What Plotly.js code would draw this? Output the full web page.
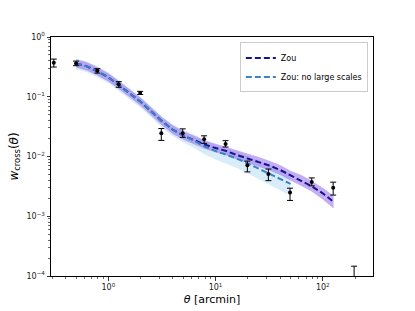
<!DOCTYPE html>
<html>
<head>
<meta charset="utf-8">
<script src="https://cdn.plot.ly/plotly-3.0.1.min.js"></script>
<style>html,body{margin:0;padding:0;background:#fff;}#chart{width:415px;height:311px;}</style>
</head>
<body>
<div id="chart"></div>
<script>
// Measurements
const thetaObs = [0.31, 0.5, 0.79, 1.25, 1.98, 3.12, 4.94, 7.82, 12.4, 19.8, 31.1, 49.5, 78.9, 125, 196];
const wObs     = [0.372, 0.361, 0.273, 0.162, 0.116, 0.0244, 0.0246, 0.0194, 0.0162, 0.00714, 0.0051, 0.00249, 0.00376, 0.00299, 5e-5];
const wObsHi   = [0.427, 0.395, 0.295, 0.179, 0.123, 0.0294, 0.029, 0.0222, 0.0184, 0.00838, 0.00617, 0.00295, 0.00438, 0.00372, 1.46e-4];
const wObsLo   = [0.314, 0.331, 0.249, 0.144, 0.109, 0.0186, 0.0209, 0.0166, 0.0144, 0.00552, 0.00394, 0.00184, 0.00323, 0.00226, 5e-5];

// Model grid
const thetaModel = [0.5, 0.63, 0.79, 1.0, 1.26, 1.58, 2.0, 2.5, 3.16, 3.98, 5.0, 6.3, 7.9, 10, 12.6, 15.8, 20, 25, 31.6, 40, 50, 63, 79, 100, 126];
const wZou   = [0.3617, 0.3224, 0.2661, 0.2113, 0.1555, 0.1144, 0.0825, 0.0573, 0.0391, 0.0282, 0.0224, 0.01884, 0.01585, 0.01385, 0.01235, 0.01059, 0.00926, 0.00825, 0.00708, 0.00596, 0.00483, 0.00398, 0.00316, 0.00242, 0.00174];
const wZouHi = [0.425, 0.379, 0.313, 0.248, 0.181, 0.133, 0.096, 0.0668, 0.0455, 0.0333, 0.0265, 0.0223, 0.0187, 0.0164, 0.0146, 0.0127, 0.0111, 0.0099, 0.0085, 0.0072, 0.0058, 0.0049, 0.0039, 0.0030, 0.0022];
const wZouLo = [0.308, 0.274, 0.226, 0.180, 0.133, 0.098, 0.0708, 0.0492, 0.0335, 0.0239, 0.0190, 0.0160, 0.0135, 0.0118, 0.0105, 0.0089, 0.0078, 0.0069, 0.0059, 0.0049, 0.0040, 0.0032, 0.0026, 0.0019, 0.00135];

const thetaNLS = [0.5, 0.63, 0.79, 1.0, 1.26, 1.58, 2.0, 2.5, 3.16, 3.98, 5.0, 6.3, 7.9, 10, 12.6, 15.8, 20, 25, 31.6, 40, 50];
const wNLS   = [0.3617, 0.3224, 0.2661, 0.2113, 0.1555, 0.1144, 0.0825, 0.0573, 0.0391, 0.0282, 0.0224, 0.01848, 0.01468, 0.01235, 0.0108, 0.00926, 0.00764, 0.00631, 0.00531, 0.0043, 0.00348];
const wNLSHi = [0.4382, 0.3906, 0.3224, 0.2561, 0.1884, 0.1385, 0.1, 0.0695, 0.0473, 0.0348, 0.02765, 0.02326, 0.01848, 0.01555, 0.01385, 0.01212, 0.0102, 0.00858, 0.00736, 0.00607, 0.00511];
const wNLSLo = [0.2873, 0.2561, 0.2113, 0.1679, 0.1235, 0.0908, 0.0656, 0.0455, 0.0304, 0.02196, 0.01711, 0.01385, 0.0108, 0.00891, 0.00764, 0.00643, 0.00521, 0.00422, 0.00348, 0.00277, 0.0022];

const yTickVals = [1e-4, 1e-3, 1e-2, 1e-1, 1];
const yTickText = ['10<sup>\u22124</sup>', '10<sup>\u22123</sup>', '10<sup>\u22122</sup>', '10<sup>\u22121</sup>', '10<sup>0</sup>'];
const xTickVals = [1, 10, 100];
const xTickText = ['10<sup>0</sup>', '10<sup>1</sup>', '10<sup>2</sup>'];

function minorTicks(lo, hi) {
  const out = [];
  for (let e = lo; e <= hi; e++) for (let m = 2; m <= 9; m++) out.push(m * Math.pow(10, e));
  return out;
}

const errPlus = wObs.map((v, i) => wObsHi[i] - v);
const errMinus = wObs.map((v, i) => v - wObsLo[i]);

const traces = [
  {x: thetaNLS, y: wNLSLo, mode: 'lines', line: {width: 0, color: 'rgba(0,0,0,0)'}, showlegend: false, hoverinfo: 'skip'},
  {x: thetaNLS, y: wNLSHi, mode: 'lines', line: {width: 0, color: 'rgba(0,0,0,0)'}, fill: 'tonexty', fillcolor: 'rgba(135,195,240,0.32)', showlegend: false, hoverinfo: 'skip'},
  {x: thetaModel, y: wZouLo, mode: 'lines', line: {width: 0, color: 'rgba(0,0,0,0)'}, showlegend: false, hoverinfo: 'skip'},
  {x: thetaModel, y: wZouHi, mode: 'lines', line: {width: 0, color: 'rgba(0,0,0,0)'}, fill: 'tonexty', fillcolor: 'rgba(150,105,235,0.55)', showlegend: false, hoverinfo: 'skip'},
  {x: thetaModel, y: wZou, mode: 'lines', name: 'Zou', line: {color: '#14148c', width: 2, dash: '6px,3px'}},
  {x: thetaNLS, y: wNLS, mode: 'lines', name: 'Zou: no large scales', line: {color: '#3a83c2', width: 2, dash: '6px,3px'}},
  {x: thetaObs, y: wObs, mode: 'markers', showlegend: false,
   marker: {color: '#000', size: 4},
   error_y: {type: 'data', symmetric: false, array: errPlus, arrayminus: errMinus, color: '#000', thickness: 1, width: 3}}
];

const axisCommon = {
  type: 'log', showgrid: false, zeroline: false, showline: true, linecolor: '#000', linewidth: 1, mirror: true,
  ticks: 'outside', ticklen: 3.5, tickwidth: 0.8, tickcolor: '#000', tickmode: 'array',
  tickfont: {family: 'DejaVu Sans', size: 8, color: '#222'}
};

const layout = {
  width: 415, height: 311,
  margin: {l: 51, r: 42, t: 36.5, b: 34.5},
  paper_bgcolor: '#fff', plot_bgcolor: '#fff',
  font: {family: 'DejaVu Sans', color: '#000', size: 10},
  xaxis: Object.assign({}, axisCommon, {
    range: [Math.log10(0.292), Math.log10(294)],
    tickvals: xTickVals, ticktext: xTickText,
    minor: {tickmode: 'array', tickvals: minorTicks(-1, 2), ticks: 'outside', ticklen: 2, tickwidth: 0.6, tickcolor: '#000', showgrid: false},
    title: {text: '<i>\u03b8</i> [arcmin]', font: {family: 'DejaVu Sans', size: 11}, standoff: 4}
  }),
  yaxis: Object.assign({}, axisCommon, {
    range: [-4, 0],
    tickvals: yTickVals, ticktext: yTickText,
    minor: {tickmode: 'array', tickvals: minorTicks(-4, -1), ticks: 'outside', ticklen: 2, tickwidth: 0.6, tickcolor: '#000', showgrid: false},
    title: {text: '<i>w</i><sub>cross</sub>(<i>\u03b8</i>)', font: {family: 'DejaVu Sans', size: 12}, standoff: 5}
  }),
  legend: {x: 0.984, y: 0.977, xanchor: 'right', yanchor: 'top', bgcolor: 'rgba(255,255,255,0.9)', bordercolor: '#ccc', borderwidth: 1,
           font: {family: 'DejaVu Sans', size: 8, color: '#000'}, tracegroupgap: 0, itemwidth: 30, traceorder: 'normal'},
  showlegend: true
};

Plotly.newPlot('chart', traces, layout, {staticPlot: true, displayModeBar: false});
</script>
</body>
</html>
